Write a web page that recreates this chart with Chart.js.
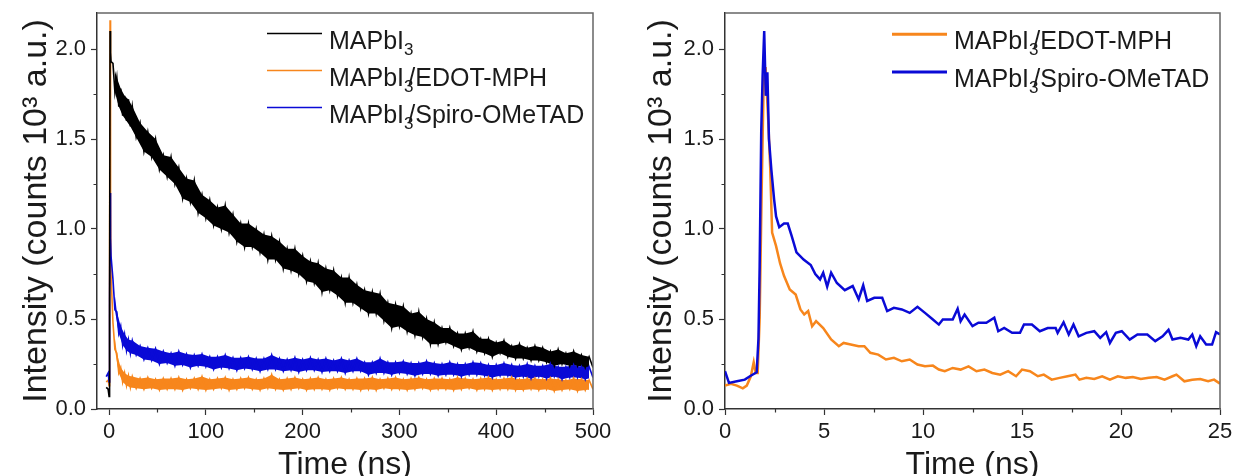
<!DOCTYPE html>
<html>
<head>
<meta charset="utf-8">
<script src="https://cdn.jsdelivr.net/npm/chart.js@4.4.1/dist/chart.umd.min.js"></script>
<style>
  html, body { margin: 0; padding: 0; background: #fff; }
  #wrap { position: relative; width: 1235px; height: 476px; overflow: hidden; }
  canvas { position: absolute; top: 0; }
</style>
</head>
<body>
<div id="wrap">
  <canvas id="decayLong" width="617" height="476" style="left:0"></canvas>
  <canvas id="decayShort" width="618" height="476" style="left:617px"></canvas>
</div>
<script>
// ---- long window (0-500 ns), values in 10^3 counts ----
var leftTime = [-3, -1, 0, 0.5, 1, 1.5, 2,
  4, 6, 8, 10, 12, 14, 16, 18, 20, 22,
  24, 28, 32, 36, 40, 44, 48, 52, 56, 60,
  64, 68, 72, 76, 80, 84, 88, 92, 96, 100,
  104, 108, 112, 116, 120, 124, 128, 132, 136, 140,
  144, 148, 152, 156, 160, 164, 168, 172, 176, 180,
  184, 188, 192, 196, 200, 204, 208, 212, 216, 220,
  224, 228, 232, 236, 240, 244, 248, 252, 256, 260,
  264, 268, 272, 276, 280, 284, 288, 292, 296, 300,
  304, 308, 312, 316, 320, 324, 328, 332, 336, 340,
  344, 348, 352, 356, 360, 364, 368, 372, 376, 380,
  384, 388, 392, 396, 400, 404, 408, 412, 416, 420,
  424, 428, 432, 436, 440, 444, 448, 452, 456, 460,
  464, 468, 472, 476, 480, 484, 488, 492, 496, 500];

var mapbi3 = [0.12, 0.11, 0.07, 0.5, 2.1, 1.98, 1.93,
  1.92, 1.76, 1.84, 1.68, 1.78, 1.63, 1.74, 1.60, 1.72, 1.57,
  1.68, 1.51, 1.59, 1.43, 1.54, 1.40, 1.50, 1.33, 1.41, 1.29,
  1.40, 1.25, 1.34, 1.17, 1.28, 1.15, 1.27, 1.09, 1.19, 1.06,
  1.16, 1.02, 1.12, 1.00, 1.13, 0.98, 1.08, 0.93, 1.03, 0.90,
  1.03, 0.90, 1.00, 0.87, 0.97, 0.83, 0.96, 0.83, 0.93, 0.78,
  0.89, 0.77, 0.89, 0.75, 0.85, 0.71, 0.82, 0.70, 0.81, 0.65,
  0.78, 0.66, 0.77, 0.63, 0.73, 0.59, 0.73, 0.59, 0.69, 0.56,
  0.66, 0.53, 0.65, 0.53, 0.64, 0.49, 0.59, 0.45, 0.58, 0.46,
  0.57, 0.43, 0.53, 0.41, 0.54, 0.40, 0.50, 0.36, 0.48, 0.36,
  0.45, 0.37, 0.45, 0.35, 0.42, 0.33, 0.42, 0.34, 0.43, 0.32,
  0.39, 0.31, 0.39, 0.29, 0.37, 0.31, 0.38, 0.29, 0.35, 0.28,
  0.36, 0.28, 0.34, 0.27, 0.35, 0.27, 0.34, 0.26, 0.32, 0.24,
  0.33, 0.25, 0.31, 0.24, 0.32, 0.24, 0.30, 0.23, 0.29, 0.23];

var edotLong = [0.15, 0.16, 0.13, 0.9, 2.16, 1.2, 0.75,
  0.48, 0.33, 0.31, 0.20, 0.23, 0.15, 0.20, 0.13, 0.185, 0.12,
  0.18, 0.115, 0.17, 0.11, 0.175, 0.115, 0.165, 0.105, 0.17, 0.11,
  0.17, 0.11, 0.175, 0.105, 0.165, 0.115, 0.17, 0.11, 0.18, 0.105,
  0.165, 0.11, 0.17, 0.115, 0.175, 0.105, 0.165, 0.11, 0.17, 0.115,
  0.175, 0.11, 0.165, 0.105, 0.17, 0.115, 0.19, 0.11, 0.165, 0.105,
  0.17, 0.11, 0.175, 0.115, 0.165, 0.105, 0.17, 0.11, 0.175, 0.11,
  0.165, 0.105, 0.17, 0.115, 0.175, 0.11, 0.165, 0.11, 0.17, 0.105,
  0.17, 0.11, 0.175, 0.105, 0.165, 0.115, 0.17, 0.11, 0.175, 0.11,
  0.165, 0.105, 0.17, 0.11, 0.175, 0.115, 0.165, 0.105, 0.17, 0.11,
  0.17, 0.11, 0.165, 0.105, 0.175, 0.11, 0.17, 0.115, 0.165, 0.105,
  0.17, 0.11, 0.175, 0.105, 0.165, 0.11, 0.17, 0.11, 0.175, 0.105,
  0.165, 0.105, 0.17, 0.11, 0.17, 0.105, 0.165, 0.11, 0.17, 0.10,
  0.165, 0.105, 0.16, 0.11, 0.17, 0.10, 0.165, 0.105, 0.16, 0.11];

var spiroLong = [0.18, 0.2, 0.15, 0.6, 1.2, 0.95, 0.85,
  0.72, 0.55, 0.54, 0.42, 0.46, 0.355, 0.415, 0.325, 0.385, 0.31,
  0.38, 0.30, 0.35, 0.275, 0.34, 0.27, 0.335, 0.25, 0.32, 0.255,
  0.31, 0.24, 0.32, 0.245, 0.305, 0.23, 0.30, 0.24, 0.305, 0.235,
  0.29, 0.22, 0.29, 0.23, 0.30, 0.225, 0.285, 0.215, 0.285, 0.225,
  0.29, 0.22, 0.28, 0.21, 0.28, 0.22, 0.30, 0.22, 0.28, 0.21,
  0.275, 0.215, 0.285, 0.205, 0.275, 0.215, 0.285, 0.215, 0.275, 0.205,
  0.28, 0.21, 0.27, 0.21, 0.28, 0.20, 0.27, 0.21, 0.28, 0.21,
  0.26, 0.19, 0.26, 0.20, 0.28, 0.20, 0.26, 0.19, 0.26, 0.20,
  0.265, 0.195, 0.255, 0.185, 0.255, 0.195, 0.265, 0.195, 0.255, 0.185,
  0.25, 0.19, 0.26, 0.19, 0.25, 0.18, 0.25, 0.19, 0.26, 0.19,
  0.255, 0.185, 0.245, 0.175, 0.245, 0.185, 0.255, 0.185, 0.245, 0.175,
  0.24, 0.18, 0.25, 0.17, 0.24, 0.18, 0.24, 0.17, 0.25, 0.18,
  0.235, 0.165, 0.235, 0.175, 0.245, 0.175, 0.235, 0.165, 0.235, 0.175];

// ---- short window (0-25 ns) ----
var edotShortT = [0, 0.3, 0.6, 0.9, 1.1, 1.3, 1.45, 1.55, 1.65, 1.75, 1.85, 1.95, 2.05, 2.18, 2.28, 2.38, 2.58, 2.78, 2.98, 3.27,
  3.57, 3.81, 4.0, 4.2, 4.4, 4.6, 4.96, 5.36, 5.75, 5.99, 6.35, 6.75, 7.04, 7.34, 7.74, 8.13, 8.53, 8.93, 9.33, 9.72,
  10.1, 10.5, 10.8, 11.1, 11.5, 11.9, 12.3, 12.7, 13.1, 13.5, 13.9, 14.3, 14.7, 15.0, 15.4, 15.8, 16.1, 16.5, 16.9, 17.3,
  17.7, 17.9, 18.25, 18.65, 19.05, 19.44, 19.84, 20.24, 20.6, 21.0, 21.4, 21.8, 22.2, 22.6, 22.8, 23.2, 23.6, 24.0, 24.4, 24.7, 25];
var edotShort = [0.13, 0.14, 0.13, 0.115, 0.13, 0.18, 0.26, 0.2, 0.2, 0.5, 1.2, 1.8, 1.9, 1.61, 1.35, 0.98, 0.905, 0.81, 0.74, 0.664,
  0.636, 0.553, 0.525, 0.544, 0.46, 0.488, 0.45, 0.386, 0.349, 0.367, 0.358, 0.349, 0.349, 0.312, 0.302, 0.275, 0.284, 0.265, 0.275, 0.247,
  0.237, 0.241, 0.219, 0.21, 0.228, 0.219, 0.237, 0.21, 0.219, 0.2, 0.191, 0.21, 0.182, 0.219, 0.21, 0.182, 0.191, 0.163, 0.173, 0.182,
  0.191, 0.163, 0.173, 0.167, 0.182, 0.163, 0.182, 0.173, 0.178, 0.167, 0.173, 0.178, 0.163, 0.182, 0.191, 0.154, 0.163, 0.167, 0.154, 0.163, 0.141];

var spiroShortT = [0, 0.2, 0.6, 1.0, 1.3, 1.6, 1.69, 1.75, 1.83, 1.9, 1.98, 2.06, 2.14, 2.22, 2.34, 2.48, 2.58, 2.74, 2.98, 3.17,
  3.37, 3.61, 3.97, 4.33, 4.56, 4.8, 4.96, 5.16, 5.36, 5.65, 6.05, 6.45, 6.75, 6.98, 7.18, 7.54, 7.94, 8.19, 8.53, 8.93,
  9.33, 9.72, 10.1, 10.5, 10.8, 11.0, 11.5, 11.75, 11.9, 12.1, 12.5, 12.8, 13.2, 13.6, 13.8, 14.1, 14.5, 14.9, 15.1, 15.5,
  15.9, 16.3, 16.7, 16.8, 17.1, 17.36, 17.6, 17.86, 18.25, 18.65, 18.95, 19.25, 19.44, 19.74, 20.04, 20.44, 20.83, 21.33, 21.73, 22.1,
  22.4, 22.6, 23.0, 23.4, 23.6, 23.8, 24.0, 24.3, 24.6, 24.8, 25];
var spiroShort = [0.21, 0.145, 0.154, 0.163, 0.185, 0.204, 0.39, 0.79, 1.54, 1.85, 2.10, 1.74, 1.87, 1.5, 1.33, 1.165, 1.07, 1.01, 1.03, 1.03,
  0.96, 0.87, 0.83, 0.80, 0.75, 0.72, 0.757, 0.68, 0.757, 0.70, 0.66, 0.683, 0.61, 0.687, 0.60, 0.618, 0.618, 0.544, 0.562, 0.553,
  0.534, 0.568, 0.534, 0.497, 0.469, 0.497, 0.497, 0.557, 0.488, 0.525, 0.46, 0.479, 0.479, 0.507, 0.432, 0.45, 0.423, 0.423, 0.469, 0.469,
  0.432, 0.45, 0.45, 0.423, 0.482, 0.414, 0.469, 0.404, 0.423, 0.432, 0.395, 0.427, 0.367, 0.423, 0.432, 0.386, 0.414, 0.414, 0.377, 0.404,
  0.44, 0.386, 0.395, 0.386, 0.414, 0.349, 0.404, 0.358, 0.358, 0.427, 0.414];

var labels = ["MAPbI₃", "MAPbI₃/EDOT-MPH", "MAPbI₃/Spiro-OMeTAD"];
var yTitle = "Intensity (counts 10³ a.u.)";
var xTitle = "Time (ns)";

var FONT = "'Liberation Sans', Arial, sans-serif";
var TXT = '#1a1a1a';
var BLACK = '#000000', ORANGE = '#f7861c', BLUE = '#0a0ad6';
Chart.defaults.font.family = FONT;
Chart.defaults.color = TXT;

function pts(xs, ys) {
  return ys.map(function (v, i) { return { x: xs[i], y: v }; });
}
// upper (parity 0) / lower (parity 1) points of the noisy part, used to shade the noise band
var NOISY_FROM = 7;
function edge(ys, parity) {
  return pts(leftTime, ys).filter(function (p, i) {
    return i >= NOISY_FROM && (i - NOISY_FROM) % 2 === parity;
  });
}
function bandPair(ys, color, order) {
  return [
    { band: true, data: edge(ys, 0), borderWidth: 0, backgroundColor: color, fill: '+1', order: order },
    { band: true, data: edge(ys, 1), borderWidth: 0, backgroundColor: color, fill: false, order: order }
  ];
}

// minor ticks + grey top/right frame
var framePlugin = {
  id: 'frame',
  afterDraw: function (chart, args, opts) {
    var ctx = chart.ctx, a = chart.chartArea;
    var sx = chart.scales.x, sy = chart.scales.y;
    ctx.save();
    ctx.strokeStyle = '#333';
    ctx.lineWidth = 1.2;
    ctx.beginPath();
    for (var v = opts.xMinor; v < sx.max; v += opts.xMajor) {
      var px = Math.round(sx.getPixelForValue(v)) + 0.5;
      ctx.moveTo(px, a.bottom); ctx.lineTo(px, a.bottom + 3.5);
    }
    for (var w = opts.yMinor; w < sy.max; w += opts.yMajor) {
      var py = Math.round(sy.getPixelForValue(w)) + 0.5;
      ctx.moveTo(a.left, py); ctx.lineTo(a.left - 3.5, py);
    }
    ctx.stroke();
    ctx.strokeStyle = '#666';
    ctx.lineWidth = 1.5;
    ctx.beginPath();
    ctx.moveTo(a.left, a.top); ctx.lineTo(a.right, a.top); ctx.lineTo(a.right, a.bottom);
    ctx.stroke();
    ctx.restore();
  }
};

// legend drawn by hand so the "3" can sit as a subscript
var legendPlugin = {
  id: 'subLegend',
  afterDraw: function (chart, args, opts) {
    var ctx = chart.ctx;
    ctx.save();
    chart.data.datasets.filter(function (d) { return !d.band; }).forEach(function (ds, i) {
      var y = opts.y + i * opts.gap;
      ctx.strokeStyle = ds.borderColor;
      ctx.lineWidth = opts.lineWidth;
      ctx.beginPath(); ctx.moveTo(opts.x, y); ctx.lineTo(opts.x + opts.len, y); ctx.stroke();
      var parts = ds.label.split('₃');
      var tx = opts.x + opts.len + 7, by = y + 15;
      ctx.fillStyle = TXT;
      ctx.textBaseline = 'alphabetic';
      parts.forEach(function (p, k) {
        ctx.font = '25px ' + FONT;
        ctx.fillText(p, tx, by);
        tx += ctx.measureText(p).width;
        if (k < parts.length - 1) {
          ctx.font = '17px ' + FONT;
          ctx.fillText('3', tx, by + 6);
          tx += ctx.measureText('3').width * 0.45;
        }
      });
    });
    ctx.restore();
  }
};

function xAxis(min, max, step, height) {
  return {
    type: 'linear', min: min, max: max,
    ticks: { stepSize: step, includeBounds: false, maxRotation: 0, padding: 4, font: { size: 22 }, color: TXT },
    grid: { drawOnChartArea: false, tickLength: 6, color: '#333', tickWidth: 1.2 },
    border: { color: '#333', width: 1.5 },
    title: { display: true, text: xTitle, color: TXT, font: { size: 32, lineHeight: 0.7 }, padding: 0 },
    afterFit: function (s) { s.height = height; s.paddingLeft = 0; s.paddingRight = 0; }
  };
}

function yAxis(width, titlePad) {
  return {
    min: 0, max: 2.2,
    ticks: { stepSize: 0.5, includeBounds: false, padding: 5, font: { size: 22 }, color: TXT,
      callback: function (v) { return v.toFixed(1); } },
    grid: { drawOnChartArea: false, tickLength: 6, color: '#333', tickWidth: 1.2 },
    border: { color: '#333', width: 1.5 },
    title: { display: true, text: yTitle, color: TXT, font: { size: 34, lineHeight: 0.8 }, padding: { top: titlePad, bottom: 0 } },
    afterFit: function (s) { s.width = width; s.paddingTop = 0; s.paddingBottom = 0; }
  };
}

var ctxLong = document.getElementById("decayLong");
var chartLong = new Chart(ctxLong, {
  type: 'line',
  data: {
    datasets: [
      { label: labels[0], data: pts(leftTime, mapbi3), borderColor: BLACK, borderWidth: 1.6, order: 0 },
      { label: labels[1], data: pts(leftTime, edotLong), borderColor: ORANGE, borderWidth: 1.6, order: 2 },
      { label: labels[2], data: pts(leftTime, spiroLong), borderColor: BLUE, borderWidth: 1.6, order: 1 }
    ].concat(bandPair(mapbi3, BLACK, 5), bandPair(edotLong, ORANGE, 4), bandPair(spiroLong, BLUE, 3))
  },
  options: {
    responsive: false,
    animation: false,
    devicePixelRatio: 1,
    elements: { point: { radius: 0 }, line: { tension: 0 } },
    layout: { padding: { left: 0, right: 24, top: 13, bottom: 0 } },
    scales: { x: xAxis(-12.5, 500, 100, 67), y: yAxis(97, 23) },
    plugins: {
      legend: { display: false },
      tooltip: { enabled: false },
      filler: { propagate: false },
      frame: { xMinor: 50, xMajor: 100, yMinor: 0.25, yMajor: 0.5 },
      subLegend: { x: 267, y: 33.5, gap: 37, len: 55, lineWidth: 1.5 }
    }
  },
  plugins: [framePlugin, legendPlugin]
});

var ctxShort = document.getElementById("decayShort");
var chartShort = new Chart(ctxShort, {
  type: 'line',
  data: {
    datasets: [
      { label: labels[1], data: pts(edotShortT, edotShort), borderColor: ORANGE, borderWidth: 2.5, order: 1 },
      { label: labels[2], data: pts(spiroShortT, spiroShort), borderColor: BLUE, borderWidth: 2.5, order: 0 }
    ]
  },
  options: {
    responsive: false,
    animation: false,
    devicePixelRatio: 1,
    elements: { point: { radius: 0 }, line: { tension: 0 } },
    layout: { padding: { left: 0, right: 15, top: 13, bottom: 0 } },
    scales: { x: xAxis(0, 25, 5, 67), y: yAxis(108, 31) },
    plugins: {
      legend: { display: false },
      tooltip: { enabled: false },
      frame: { xMinor: 2.5, xMajor: 5, yMinor: 0.25, yMajor: 0.5 },
      subLegend: { x: 275, y: 34.3, gap: 37.7, len: 55, lineWidth: 3 }
    }
  },
  plugins: [framePlugin, legendPlugin]
});
</script>
</body>
</html>
